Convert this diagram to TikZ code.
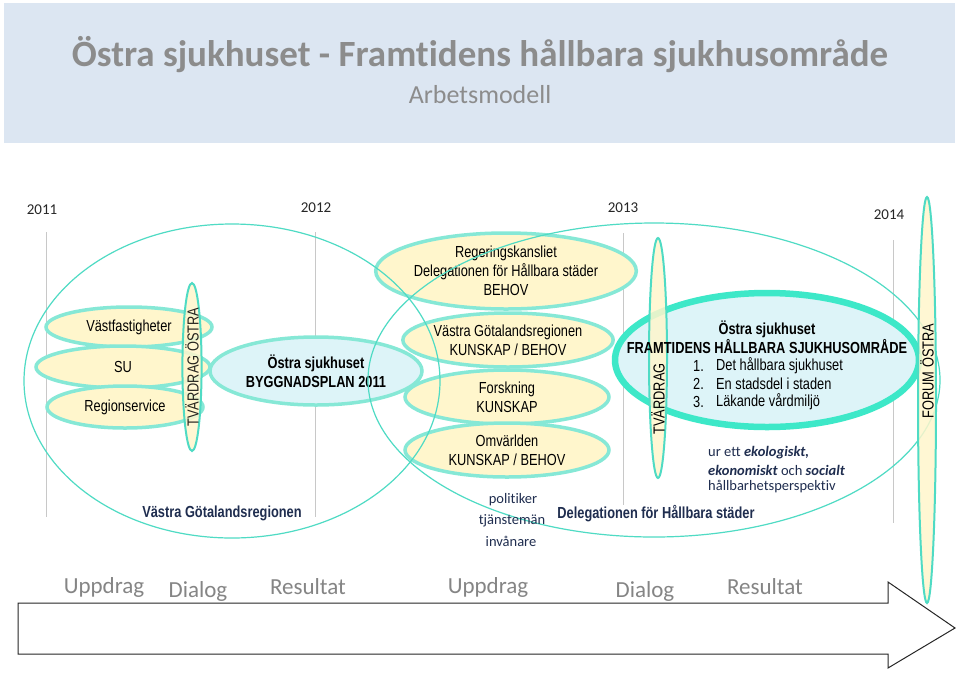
\documentclass[tikz,border=0pt]{standalone}
\usepackage{fontspec}
\setmainfont{Liberation Sans}[FakeStretch=0.8]
\newfontfamily\carl{Carlito}[Ligatures={NoCommon}]
\usetikzlibrary{shapes.geometric}
\definecolor{hdr}{HTML}{DCE6F2}
\definecolor{titlegray}{HTML}{8C8C8C}
\definecolor{turq}{HTML}{4FDBC4}
\definecolor{turqthick}{HTML}{3DE8C8}
\definecolor{turqlight}{HTML}{86E8D6}
\definecolor{yel}{HTML}{FFF6CC}
\definecolor{lblue}{HTML}{DDF4F8}
\definecolor{navy}{HTML}{1F2D4F}
\definecolor{vline}{HTML}{C8C8C8}
\definecolor{yeargray}{HTML}{262626}
\tikzset{
  yell/.style={ellipse, fill=yel, draw=turqlight, line width=3.5pt, inner sep=0pt, align=center, font=\fontsize{16}{19}\selectfont},
  blueell/.style={ellipse, fill=lblue, draw=turqlight, line width=3.5pt, inner sep=0pt, align=center, font=\fontsize{16}{19}\selectfont\bfseries},
  thinell/.style={ellipse, draw=turq, line width=1.2pt, inner sep=0pt},
  vert/.style={ellipse, fill=yel, fill opacity=0.85, draw=turq, line width=2pt, inner sep=0pt, rotate=90},
  lbl/.style={font=\fontsize{16}{18}\selectfont, inner sep=0pt},
  blbl/.style={font=\fontsize{16}{18}\selectfont\bfseries, inner sep=0pt},
  navylbl/.style={font=\fontsize{16}{18}\selectfont\bfseries, text=navy, inner sep=0pt},
  year/.style={font=\carl\fontsize{15}{17}\selectfont, text=yeargray, inner sep=0pt},
  small/.style={font=\carl\fontsize{14.5}{16}\selectfont, text=navy, inner sep=0pt},
  phase/.style={font=\carl\fontsize{23}{25}\selectfont, text=titlegray!95!black, inner sep=0pt},
  gridline/.style={draw=vline, line width=0.8pt},
}
\begin{document}
\begin{tikzpicture}[x=1pt,y=-1pt]
\useasboundingbox (0,0) rectangle (960,673);
\fill[white] (0,0) rectangle (960,673);
% header
\fill[hdr] (4,3) rectangle (955,143);
\node[font=\carl\fontsize{37}{40}\selectfont\bfseries, text=titlegray, inner sep=0pt] (title) at (480,55) {Östra sjukhuset - Framtidens hållbara sjukhusområde};
\node[font=\carl\fontsize{26}{28}\selectfont, text=titlegray, inner sep=0pt] (sub) at (480,95) {Arbetsmodell};
% years
\node[year] (y11) at (42,210) {2011};
\node[year] (y12) at (316,208) {2012};
\node[year] (y13) at (623,208) {2013};
\node[year] (y14) at (889,215) {2014};
% grid lines
\draw[gridline] (46,232) -- (46,517);
\draw[gridline] (315,232) -- (315,517);
\draw[gridline] (623,233) -- (623,505);
\draw[gridline] (893,240) -- (893,523);
% left group
\node[yell, minimum width=166, minimum height=40] (vf) at (129,327) {Västfastigheter};
\node[yell, minimum width=174, minimum height=42] (su) at (123,367) {SU};
\node[yell, minimum width=156, minimum height=42] (rs) at (125,407) {Regionservice};
\node[vert, minimum width=136, minimum height=16, font=\fontsize{16}{18}\selectfont] (tvo) at (192,367) {TVÄRDRAG ÖSTRA};
\node[blueell, minimum width=212, minimum height=68] (bp) at (316,371) {Östra sjukhuset\\BYGGNADSPLAN 2011};
% middle group
\node[yell, minimum width=208, minimum height=76] (rk) at (506,271) {Regeringskansliet\\Delegationen för Hållbara städer\\BEHOV};
\node[yell, minimum width=204, minimum height=54] (vg) at (508,340) {Västra Götalandsregionen\\KUNSKAP / BEHOV};
\node[yell, minimum width=204, minimum height=54] (fo) at (507,397) {Forskning\\KUNSKAP};
\node[yell, minimum width=204, minimum height=54] (om) at (507,450) {Omvärlden\\KUNSKAP / BEHOV};
% right big ellipse
\node[ellipse, fill=lblue, draw=turqthick, line width=6.5pt, minimum width=304, minimum height=134, inner sep=0pt] (fr) at (767,360) {};
% thin big ellipses
\node[thinell, minimum width=416, minimum height=314] (bigL) at (232,381) {};
\node[thinell, minimum width=572, minimum height=314] (bigM) at (654,380) {};
% vertical ellipses right
\node[vert, minimum width=240, minimum height=18] (tv) at (658,358) {};
\node[lbl, rotate=90] (tvt) at (658,399) {TVÄRDRAG};
\node[vert, minimum width=406, minimum height=18] (fm) at (927,400) {};
\node[lbl, rotate=90] (fmt) at (927,371) {FORUM ÖSTRA};
% texts in right ellipse
\node[blbl] (os1) at (767,329) {Östra sjukhuset};
\node[blbl] (os2) at (767,347) {FRAMTIDENS HÅLLBARA SJUKHUSOMRÅDE};
\node[lbl, anchor=west] (n1) at (693,366) {1.};
\node[lbl, anchor=west] (l1) at (716,366) {Det hållbara sjukhuset};
\node[lbl, anchor=west] (n2) at (693,384) {2.};
\node[lbl, anchor=west] (l2) at (716,384) {En stadsdel i staden};
\node[lbl, anchor=west] (n3) at (693,402) {3.};
\node[lbl, anchor=west] (l3) at (716,402) {Läkande vårdmiljö};
% perspective
\node[small, anchor=west] (p1) at (708,453) {ur ett \textbf{\textit{ekologiskt,}}};
\node[small, anchor=west] (p2) at (708,470) {\textbf{\textit{ekonomiskt}} och \textbf{\textit{socialt}}};
\node[small, anchor=west] (p3) at (708,487) {hållbarhetsperspektiv};
% bottom labels
\node[navylbl] (vgr) at (222,513) {Västra Götalandsregionen};
\node[navylbl] (dhs) at (656,514) {Delegationen för Hållbara städer};
\node[small] (pol) at (513,500) {politiker};
\node[small] (tja) at (512,521) {tjänstemän};
\node[small] (inv) at (511,541) {invånare};
% phases
\node[phase] (u1) at (104,587) {Uppdrag};
\node[phase] (d1) at (198,591) {Dialog};
\node[phase] (r1) at (308,587) {Resultat};
\node[phase] (u2) at (488,587) {Uppdrag};
\node[phase] (d2) at (645,591) {Dialog};
\node[phase] (r2) at (765,587) {Resultat};
% bottom arrow
\draw[draw=black!85, line width=1pt, line join=miter] (18,603) -- (888,603) -- (888,582) -- (955,628) -- (888,668) -- (888,654) -- (18,654) -- cycle;
\end{tikzpicture}
\end{document}
